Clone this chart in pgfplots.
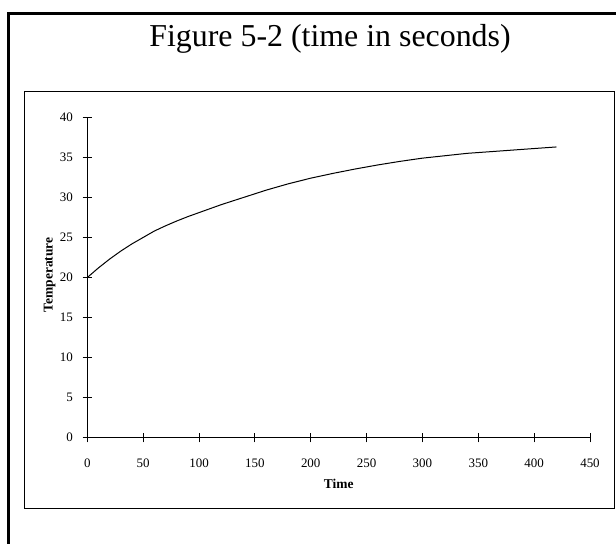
\documentclass[border=0pt]{standalone}
\usepackage{fontspec}
\setmainfont{Liberation Serif}
\usepackage{pgfplots}
\pgfplotsset{compat=1.18}
\begin{document}
\begin{tikzpicture}
\useasboundingbox (0,0) rectangle (616bp,544bp);
\clip (0,0) rectangle (616bp,544bp);
% outer frame
\draw[line width=2.7bp] (8.7bp,-20bp) -- (8.7bp,530.5bp) -- (660bp,530.5bp);
% inner frame
\draw[line width=1.2bp] (24.6bp,35.7bp) rectangle (614.3bp,452.3bp);
\node[anchor=base,font=\fontsize{32}{38}\selectfont] at (330bp,497.3bp) {Figure 5-2 (time in seconds)};
\begin{axis}[
  at={(87.3bp,106.3bp)}, anchor=south west,
  scale only axis, width=502.7bp, height=320.4bp,
  xmin=0, xmax=450, ymin=0, ymax=40,
  axis x line=bottom, axis y line=left,
  axis line style={-, line width=0.9bp},
  xtick={0,50,...,450}, ytick={0,5,...,40},
  tick align=center, major tick length=9.4bp,
  tick style={line width=0.9bp, black},
  /pgf/number format/assume math mode=true,
  ticklabel style={font=\fontsize{13}{15}\selectfont},
  xticklabel style={yshift=-13bp},
  yticklabel style={xshift=-6.3bp},
  xlabel={Time}, ylabel={Temperature},
  every axis x label/.style={at={(axis description cs:0.5,0)}, anchor=base, yshift=-50.6bp, font=\fontsize{13.5}{16}\selectfont\bfseries},
  every axis y label/.style={at={(axis description cs:-0.0692,0.508)}, rotate=90, anchor=base, font=\fontsize{13.5}{16}\selectfont\bfseries},
  clip=false,
]
\addplot[black, line width=1bp, no marks] coordinates {
 (0,20.0) (10,21.2) (20,22.3) (30,23.3) (40,24.2) (50,25.0) (60,25.8) (70,26.45)
 (80,27.05) (90,27.6) (100,28.1) (120,29.1) (140,30.0) (160,30.9) (180,31.7)
 (200,32.4) (220,33.0) (240,33.55) (260,34.05) (280,34.5) (300,34.9)
 (320,35.2) (340,35.5) (360,35.7) (380,35.9) (400,36.1) (420,36.3)
};
\end{axis}
\end{tikzpicture}
\end{document}
